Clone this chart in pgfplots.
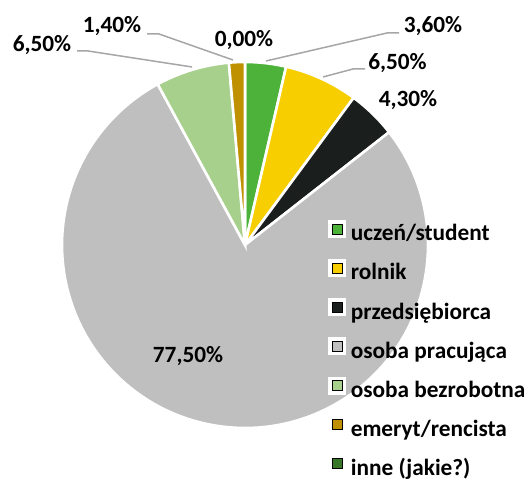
\documentclass[border=0pt]{standalone}
\usepackage{pgfplots}
\usepackage{pgfplotstable}
\pgfplotsset{compat=1.18}
\usepackage{fontspec}
\IfFontExistsTF{Carlito-Bold.ttf}{%
  \setmainfont{Carlito}[Extension=.ttf,UprightFont=*-Regular,BoldFont=*-Bold]%
  \def\lblsize{23.3}}{%
  \setmainfont{Carlito}\def\lblsize{23.8}}
\definecolor{cA}{RGB}{77,178,58}
\definecolor{cB}{RGB}{247,206,0}
\definecolor{cC}{RGB}{26,30,28}
\definecolor{cD}{RGB}{191,191,191}
\definecolor{cE}{RGB}{168,208,141}
\definecolor{cF}{RGB}{191,144,0}
\definecolor{cG}{RGB}{56,118,40}
\definecolor{lead}{RGB}{166,166,166}
\pgfplotstableread{
value color
3.6 cA
6.5 cB
4.3 cC
77.5 cD
6.5 cE
1.4 cF
0.0 cG
}\piedata
\newcommand{\lbl}{\fontsize{\lblsize}{28}\selectfont\bfseries}
\pgfplotsset{
  boxmark/.style={fill=#1, legend image code/.code={%
    \fill[white] (0pt,-2.5pt) rectangle (17pt,14.5pt);
    \fill (3.5pt,1pt) rectangle (13.5pt,11pt);}}
}
\begin{document}
\begin{tikzpicture}
\begin{axis}[x=1pt,y=1pt,xmin=0,xmax=531,ymin=0,ymax=480,hide axis,clip=false,
  legend cell align=left,
  legend style={at={(axis cs:328,260)},anchor=north west,draw=none,fill=none,
    font=\lbl,row sep=13.4pt,column sep=5.2pt,inner sep=0pt,
    nodes={inner sep=0pt,text height=17pt,text depth=5pt}}]
\path (axis cs:0,0) rectangle (axis cs:531,480);
\pgfplotstablegetrowsof{\piedata}
\pgfmathtruncatemacro{\N}{\pgfplotsretval-1}
\def\tot{0}
\pgfplotsforeachungrouped \i in {0,...,\N}{%
  \pgfplotstablegetelem{\i}{value}\of\piedata
  \pgfmathsetmacro{\tot}{\tot+\pgfplotsretval}%
}
\def\cum{0}
\pgfplotsforeachungrouped \i in {0,...,\N}{%
  \pgfplotstablegetelem{\i}{value}\of\piedata
  \let\sval\pgfplotsretval
  \pgfplotstablegetelem{\i}{color}\of\piedata
  \let\scol\pgfplotsretval
  \pgfmathsetmacro{\sa}{90-360*(\cum/\tot)}%
  \pgfmathsetmacro{\cum}{\cum+\sval}%
  \pgfmathsetmacro{\sb}{90-360*(\cum/\tot)}%
  \edef\temp{\noexpand\filldraw[fill=\scol,draw=white,line width=2.6pt,line join=miter] (axis cs:245,235) -- ++(\sa:183pt) arc[start angle=\sa,end angle=\sb,radius=183pt] -- cycle;}%
  \temp
}
\draw[lead,line width=1.5pt] (axis cs:399,447) -- (axis cs:387,447) -- (axis cs:266,419);
\draw[lead,line width=1.5pt] (axis cs:365,411) -- (axis cs:353,411) -- (axis cs:323,403);
\draw[lead,line width=1.5pt] (axis cs:147,446) -- (axis cs:159,446) -- (axis cs:233,420);
\draw[lead,line width=1.5pt] (axis cs:77,429) -- (axis cs:88,429) -- (axis cs:192,413);
\node[anchor=base,font=\lbl] at (axis cs:433,447) {3,60\%};
\node[anchor=base,font=\lbl] at (axis cs:397.5,410) {6,50\%};
\node[anchor=base,font=\lbl] at (axis cs:408,373) {4,30\%};
\node[anchor=base,font=\lbl] at (axis cs:244,433) {0,00\%};
\node[anchor=base,font=\lbl] at (axis cs:112,447) {1,40\%};
\node[anchor=base,font=\lbl] at (axis cs:42,428) {6,50\%};
\node[anchor=base,font=\lbl] at (axis cs:188,117) {77,50\%};
\addlegendimage{boxmark=cA}\addlegendentry{uczeń/student}
\addlegendimage{boxmark=cB}\addlegendentry{rolnik}
\addlegendimage{boxmark=cC}\addlegendentry{przedsiębiorca}
\addlegendimage{boxmark=cD}\addlegendentry{osoba pracująca}
\addlegendimage{boxmark=cE}\addlegendentry{osoba bezrobotna}
\addlegendimage{boxmark=cF}\addlegendentry{emeryt/rencista}
\addlegendimage{boxmark=cG}\addlegendentry{inne (jakie?)}
\end{axis}
\end{tikzpicture}
\end{document}
